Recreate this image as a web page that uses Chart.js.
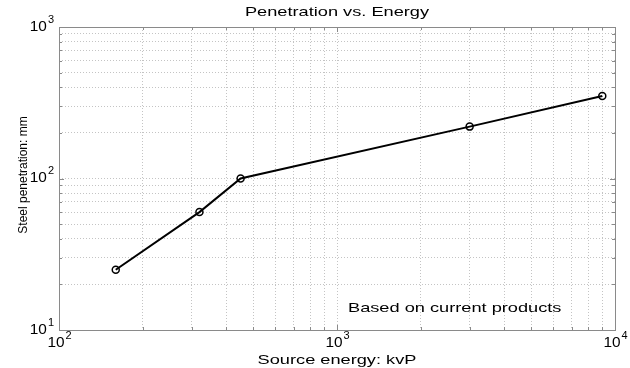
<!DOCTYPE html>
<html><head><meta charset="utf-8">
<script src="https://cdn.jsdelivr.net/npm/chart.js@4/dist/chart.umd.min.js"></script>
<style>html,body{margin:0;padding:0;background:#fff}#wrap{width:630px;height:368px}</style>
</head><body><div id="wrap"><canvas id="c" width="630" height="368"></canvas></div>
<script>
const energy = [160, 320, 450, 3000, 9000];
const penetration = [25, 60, 100, 220, 350];
const xMajorTicks = [100, 1000, 10000];
const yMajorTicks = [10, 100, 1000];
const titleText = 'Penetration vs. Energy';
const xTitle = 'Source energy: kvP';
const yTitle = 'Steel penetration: mm';
const noteText = 'Based on current products';
const FONT = '"Liberation Sans", Arial, Helvetica, sans-serif';

function logTicks(min, max) {
  const t = [];
  for (let d = min; d < max; d *= 10) for (let k = 1; k < 10; k++) t.push(d * k);
  t.push(max);
  return t;
}

function wideText(ctx, text, x, y, align, size, sx) {
  ctx.save();
  ctx.font = size + 'px ' + FONT;
  ctx.textBaseline = 'middle';
  ctx.textAlign = align;
  ctx.translate(x, y);
  ctx.scale(sx, 1);
  ctx.fillText(text, 0, 0);
  ctx.restore();
}

function drawPow(ctx, v, x, y, align) {
  const exp = String(Math.round(Math.log10(v)));
  const sx = 1.1;
  ctx.font = '14px ' + FONT;
  const bw = ctx.measureText('10').width * sx;
  ctx.font = '10px ' + FONT;
  const ew = ctx.measureText(exp).width * sx;
  const x0 = align === 'right' ? x - bw - ew - 1 : x - (bw + ew) / 2;
  wideText(ctx, '10', x0, y, 'left', 14, sx);
  wideText(ctx, exp, x0 + bw + 1, y - 7, 'left', 10, sx);
}

const matlabPlugin = {
  id: 'matlab',
  afterDraw(chart) {
    const ctx = chart.ctx, a = chart.chartArea;
    const xs = chart.scales.x, ys = chart.scales.y;
    ctx.save();
    ctx.strokeStyle = '#8a8a8a';
    ctx.lineWidth = 1;
    ctx.strokeRect(Math.round(a.left) + 0.5, Math.round(a.top) + 0.5, Math.round(a.right - a.left), Math.round(a.bottom - a.top));
    ctx.beginPath();
    logTicks(100, 10000).forEach(v => {
      const px = Math.round(xs.getPixelForValue(v)) + 0.5;
      const len = xMajorTicks.includes(v) ? 5 : 3;
      ctx.moveTo(px, a.bottom); ctx.lineTo(px, a.bottom - len);
      ctx.moveTo(px, a.top); ctx.lineTo(px, a.top + len);
    });
    logTicks(10, 1000).forEach(v => {
      const py = Math.round(ys.getPixelForValue(v)) + 0.5;
      const len = yMajorTicks.includes(v) ? 5 : 3;
      ctx.moveTo(a.left, py); ctx.lineTo(a.left + len, py);
      ctx.moveTo(a.right, py); ctx.lineTo(a.right - len, py);
    });
    ctx.stroke();
    ctx.fillStyle = '#000';
    xMajorTicks.forEach(v => drawPow(ctx, v, xs.getPixelForValue(v), a.bottom + 13, 'center'));
    yMajorTicks.forEach(v => drawPow(ctx, v, a.left - 5, ys.getPixelForValue(v), 'right'));
    const cx = (a.left + a.right) / 2;
    wideText(ctx, titleText, cx, 12, 'center', 13, 1.4);
    wideText(ctx, xTitle, cx, 360, 'center', 13, 1.4);
    wideText(ctx, noteText, 348, 308, 'left', 13, 1.4);
    ctx.save();
    ctx.translate(24, 175);
    ctx.rotate(-Math.PI / 2);
    ctx.font = '12px ' + FONT;
    ctx.textAlign = 'center';
    ctx.textBaseline = 'middle';
    ctx.fillText(yTitle, 0, 0);
    ctx.restore();
    ctx.restore();
  }
};

new Chart(document.getElementById('c'), {
  type: 'line',
  data: {
    datasets: [{
      data: energy.map((x, i) => ({ x: x, y: penetration[i] })),
      borderColor: '#000',
      borderWidth: 2,
      pointRadius: 3.5,
      pointBorderWidth: 1.5,
      pointBackgroundColor: 'rgba(255,255,255,0)',
      pointBorderColor: '#000',
      tension: 0
    }]
  },
  options: {
    responsive: false,
    animation: false,
    devicePixelRatio: 1,
    layout: { padding: { left: 59, top: 27, right: 15, bottom: 38 } },
    plugins: { legend: { display: false }, tooltip: { enabled: false }, title: { display: false } },
    scales: {
      x: {
        type: 'logarithmic', min: 100, max: 10000,
        afterBuildTicks: s => { s.ticks = logTicks(100, 10000).map(v => ({ value: v })); },
        ticks: { display: false },
        grid: { color: '#c4c4c4', lineWidth: 1, drawTicks: false, tickLength: 0 },
        border: { display: false, dash: [1, 2] }
      },
      y: {
        type: 'logarithmic', min: 10, max: 1000,
        afterBuildTicks: s => { s.ticks = logTicks(10, 1000).map(v => ({ value: v })); },
        ticks: { display: false },
        grid: { color: '#c4c4c4', lineWidth: 1, drawTicks: false, tickLength: 0 },
        border: { display: false, dash: [1, 2] }
      }
    }
  },
  plugins: [matlabPlugin]
});
</script>
</body></html>
